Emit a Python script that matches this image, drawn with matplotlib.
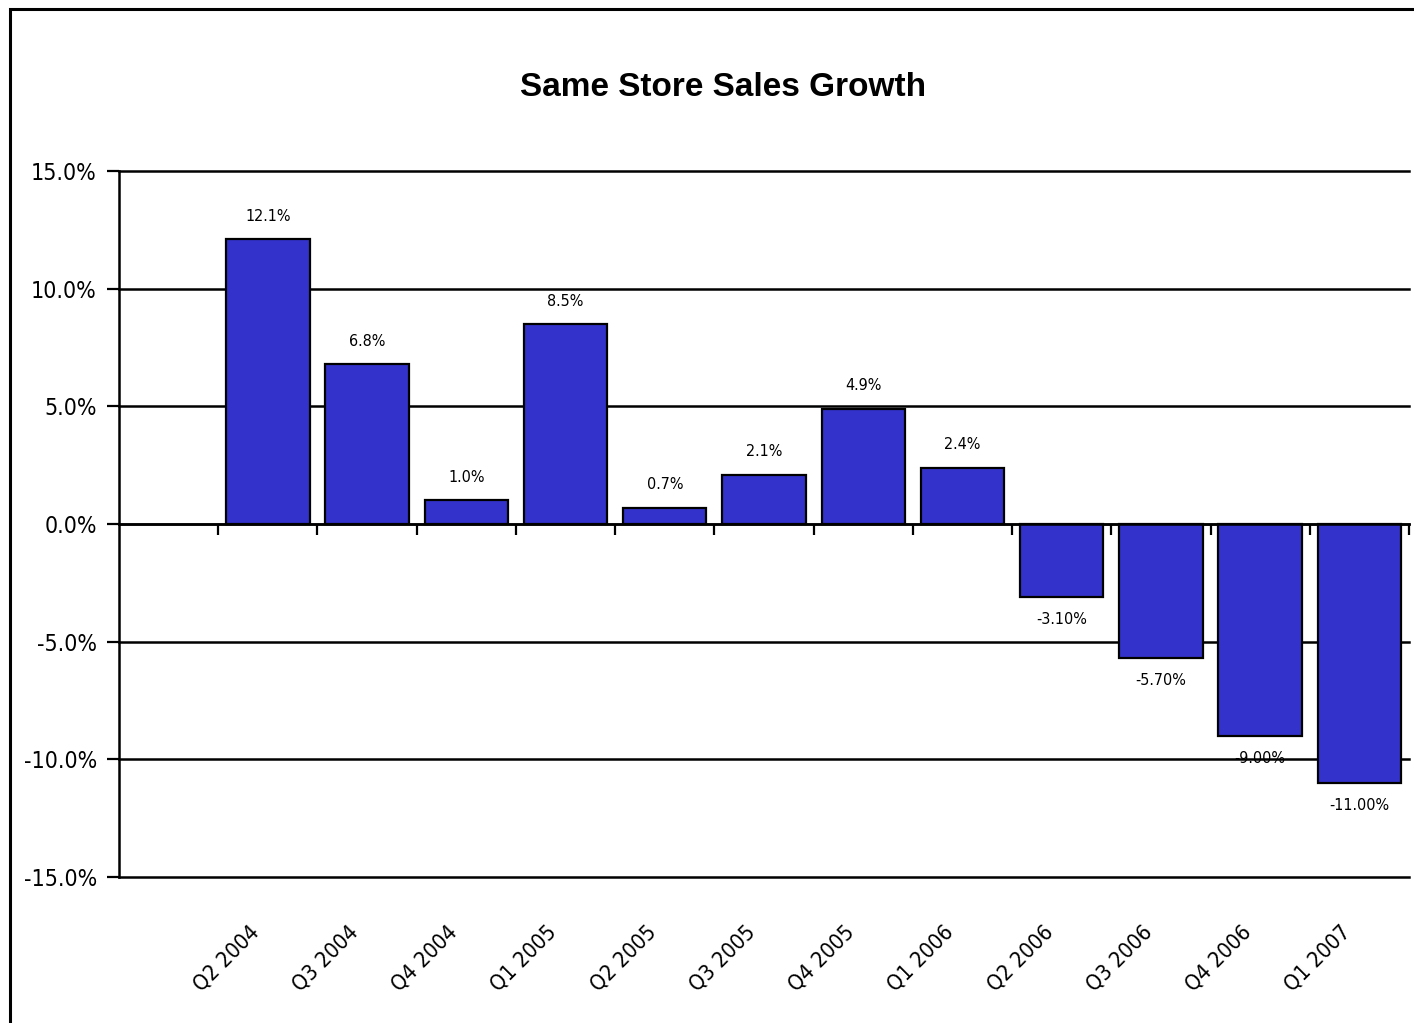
import matplotlib
matplotlib.use("Agg")
import matplotlib.pyplot as plt
from matplotlib.patches import Rectangle
from matplotlib import font_manager
import matplotlib.transforms as mtransforms
import numpy as np

categories = ["Q2 2004", "Q3 2004", "Q4 2004", "Q1 2005", "Q2 2005", "Q3 2005",
              "Q4 2005", "Q1 2006", "Q2 2006", "Q3 2006", "Q4 2006", "Q1 2007"]
values = [12.1, 6.8, 1.0, 8.5, 0.7, 2.1, 4.9, 2.4, -3.1, -5.7, -9.0, -11.0]
value_labels = ["12.1%", "6.8%", "1.0%", "8.5%", "0.7%", "2.1%", "4.9%", "2.4%",
                "-3.10%", "-5.70%", "-9.00%", "-11.00%"]
y_ticks = [15, 10, 5, 0, -5, -10, -15]
y_tick_labels = ["15.0%", "10.0%", "5.0%", "0.0%", "-5.0%", "-10.0%", "-15.0%"]
title = "Same Store Sales Growth"

# pick a narrow font if one is installed
names = {f.name for f in font_manager.fontManager.ttflist}
condensed = {(f.name) for f in font_manager.fontManager.ttflist
             if str(f.stretch) in ("condensed", "semi-condensed", "575", "550")}
if "Liberation Sans Narrow" in names:
    NARROW = dict(fontfamily=["Liberation Sans Narrow", "DejaVu Sans"])
    scale = 1.0
elif "Arial Narrow" in names:
    NARROW = dict(fontfamily=["Arial Narrow", "DejaVu Sans"])
    scale = 1.0
elif "DejaVu Sans" in condensed:
    NARROW = dict(fontfamily=["DejaVu Sans"], fontstretch="condensed")
    scale = 0.92
else:
    NARROW = dict(fontfamily=["Liberation Sans", "DejaVu Sans"])
    scale = 0.88

fig = plt.figure(figsize=(14.14, 10.23), dpi=100)
fig.patch.set_facecolor("white")
ax = fig.add_axes([119/1414, 1 - 877/1023, (1409 - 119)/1414, (877 - 171)/1023])

x = np.arange(len(categories))
ax.bar(x, values, width=0.84, color="#3333CC", edgecolor="black", linewidth=1.6, zorder=3)

ax.set_xlim(-1.5, len(categories) - 0.5)
ax.set_ylim(-15, 15)

# gridlines
for yv in y_ticks:
    ax.axhline(yv, color="black", linewidth=1.8, zorder=1, clip_on=False)

# spines
for s in ["top", "right"]:
    ax.spines[s].set_visible(False)
ax.spines["left"].set_linewidth(1.8)
ax.spines["bottom"].set_position(("data", 0))
ax.spines["bottom"].set_linewidth(1.8)
ax.spines["bottom"].set_zorder(4)

# y ticks
ax.set_yticks(y_ticks)
ax.set_yticklabels(y_tick_labels, fontsize=18 * scale, **NARROW)
ax.tick_params(axis="y", direction="out", length=9, width=1.6, pad=7)

# x ticks: boundary ticks on zero line
ax.set_xticks(np.arange(-0.5, len(categories), 1.0))
ax.set_xticklabels([])
ax.tick_params(axis="x", direction="out", length=8, width=1.6)

# category labels at bottom
sec = ax.secondary_xaxis(0.0)
sec.set_xticks(x)
sec.set_xticklabels(categories, rotation=45, ha="right", rotation_mode="anchor",
                    fontsize=17 * scale, **NARROW)
sec.tick_params(length=0, pad=32)
sec.spines["bottom"].set_visible(False)
offset = mtransforms.ScaledTranslation(-19/100, 0, fig.dpi_scale_trans)
for lab in sec.get_xticklabels():
    lab.set_transform(lab.get_transform() + offset)

# data labels
for xi, v, lab in zip(x, values, value_labels):
    if v >= 0:
        ax.annotate(lab, (xi, v), xytext=(0, 11), textcoords="offset points",
                    ha="center", va="bottom", fontsize=12.5 * scale, zorder=5, **NARROW)
    else:
        ax.annotate(lab, (xi, v), xytext=(0, -11), textcoords="offset points",
                    ha="center", va="top", fontsize=12.5 * scale, zorder=5, **NARROW)

fig.text(723/1414, 1 - 88/1023, title, ha="center", va="center",
         fontfamily=["Liberation Sans", "DejaVu Sans"], fontweight="bold", fontsize=24)

# outer frame
fig.patches.append(Rectangle((10/1414, -0.05), 1.2, 1 - 9/1023 + 0.05,
                             transform=fig.transFigure, fill=False,
                             edgecolor="black", linewidth=2.2, zorder=10))

fig.savefig("out.png", dpi=100)
